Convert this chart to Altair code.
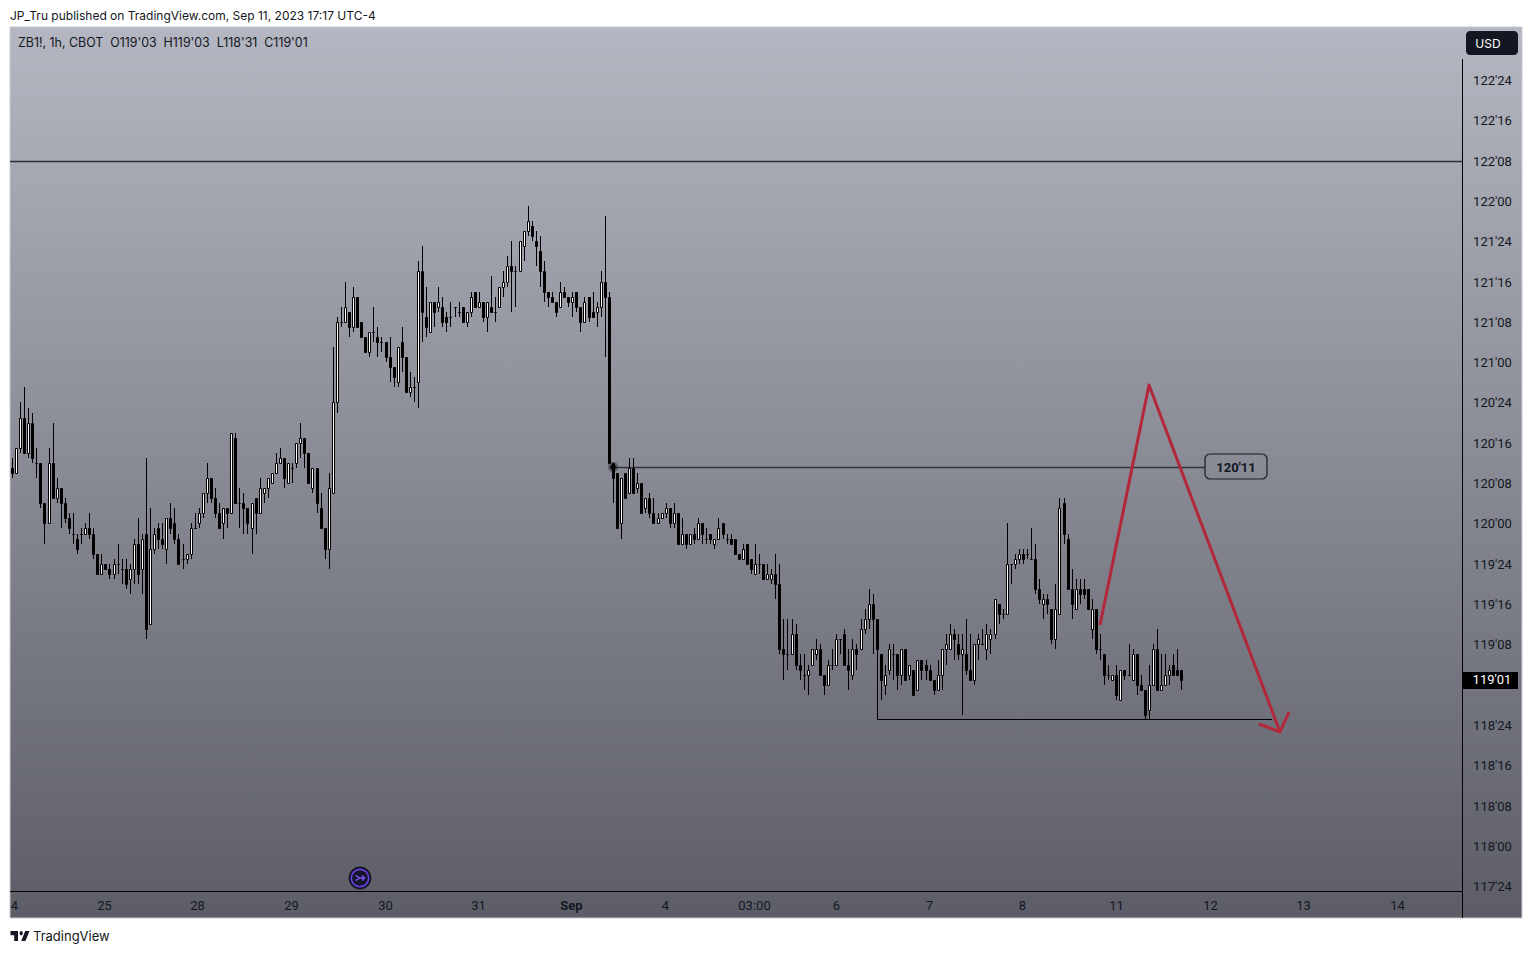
import json
import altair as alt
import pandas as pd

# All prices are in 32nds above 118'00
opens = [75,74,79,85,78,84,76,76,68,64, 76,69,71,68,65,62,61,62,62,63, 62,58,54,56,55,54,56,55,55,53,
 55,60,55,62,44,59,63,61,59,65, 64,61,57,57,58,63,64,66,70,73, 69,66,64,67,66,81,68,68,67,63,
 69,66,70,71,72,74,76,77,72,75, 76,80,81,78,71,75,67,63,59,70, 88,104,104,106,103,109,104,101,98,102,
 101,100,100,97,95,92,100,97,90,91, 92,114,105,102,108,107,107,105,105,107, 106,107,104,106,110,107,108,105,107,106,
 107,111,112,115,114,114,119,122,123,120, 118,114,110,109,108,107,110,109,108,110, 107,104,109,106,106,107,112,109,76,74,
 64,74,70,75,71,72,67,69,66,64, 65,66,67,64,66,60,62,60,62,61, 64,61,62,60,61,64,61,61,61,58,
 57,60,57,54,56,56,53,53,54,52, 39,38,38,42,36,34,34,36,38,39, 34,32,36,36,41,42,36,34,39,39,
 43,45,48,45,38,32,35,38,38,34, 39,34,35,31,37,36,35,33,31,34, 39,39,42,40,38,38,35,33,40,40,
 39,41,42,48,46,46,56,56,57,58, 58,57,57,51,48,49,47,41,46,68, 61,51,47,51,51,51,43,47,39,38,
 34,33,34,29,35,34,33,38,32,31, 27,32,39,31,32,34,36,35,35]
closes = [74,79,85,78,84,77,76,68,64,76, 69,71,68,65,63,62,59,62,63,62, 58,54,56,55,54,56,56,55,52,55,
 60,54,61,43,59,62,61,60,65,63, 61,56,57,58,63,63,66,70,73,69, 66,63,67,66,82,68,68,67,64,68,
 66,71,71,73,74,76,77,73,76,75, 80,81,78,72,75,68,63,59,71,88, 104,104,107,103,109,103,101,98,102,102,
 100,100,97,95,93,99,97,90,91,91, 114,106,103,108,106,108,104,104,105,107, 106,104,106,109,107,108,105,108,106,106,
 111,112,115,114,114,120,122,124,121,119, 114,110,109,108,106,110,109,108,109,107, 104,108,105,105,107,112,109,76,73,63,
 73,69,75,70,72,66,69,66,64,65, 66,67,64,66,60,62,60,62,61,64, 62,61,61,61,63,62,61,60,58,57,
 59,56,55,56,56,53,54,54,52,39, 38,38,42,36,35,34,35,39,39,34, 32,36,36,41,41,36,35,39,38,43,
 45,48,45,39,33,34,39,38,34,39, 33,36,30,37,35,35,33,31,34,39, 40,42,41,38,39,35,33,40,41,40,
 42,42,49,46,46,56,56,57,58,57, 58,57,51,49,49,48,41,47,67,62, 51,48,51,50,50,47,47,39,39,34,
 34,34,30,35,34,34,38,32,31,26, 32,39,31,32,34,35,34,34,33]
highs = [77,79,88,91,87,86,79,76,68,79, 84,73,71,69,66,66,62,63,64,66, 63,58,58,56,56,57,60,57,57,56,
 61,65,62,77,67,63,64,64,65,68, 67,62,60,58,64,66,67,70,76,73, 71,68,67,67,82,82,71,70,67,68,
 69,73,71,73,74,78,79,77,76,76, 80,84,81,78,75,75,70,63,74,99, 105,107,112,106,111,109,104,101,102,107,
 103,101,100,101,95,99,103,97,94,93, 116,119,111,108,108,111,109,106,108,107, 108,107,106,110,110,110,108,108,113,109,
 111,114,117,120,115,120,122,127,124,122, 121,116,110,110,108,112,111,109,110,110, 107,109,109,110,108,114,125,110,76,74,
 73,74,77,77,74,72,69,70,69,66, 66,68,67,68,66,65,62,62,63,65, 64,63,62,61,65,64,62,62,61,58,
 60,60,57,60,58,56,56,55,58,56, 45,45,45,44,38,38,36,39,41,40, 34,37,39,42,41,43,39,41,40,45,
 47,51,50,45,38,36,40,40,38,39, 39,36,35,37,37,37,36,33,37,39, 42,44,43,42,42,45,42,40,42,43,
 44,43,49,48,47,64,56,58,59,59, 59,63,60,53,50,50,47,52,69,69, 62,55,53,53,53,51,49,47,42,38,
 36,34,36,35,35,40,39,38,34,31, 36,40,43,38,38,36,38,39,35]
lows = [73,74,78,78,77,76,73,67,60,64, 69,68,63,64,62,60,58,60,62,61, 57,54,54,55,53,53,54,52,51,50,
 52,52,50,41,44,58,59,59,56,62, 60,56,55,56,57,63,63,65,68,68, 65,63,61,63,66,68,63,62,62,58,
 62,66,68,69,72,74,76,71,72,72, 75,77,75,72,70,66,63,57,55,70, 86,103,104,101,102,103,101,98,97,100,
 97,98,96,92,91,91,94,90,89,88, 87,100,101,102,103,106,103,102,103,105, 105,104,103,105,107,107,104,102,106,104,
 107,109,111,106,107,114,116,121,120,115, 111,108,107,108,105,107,109,107,105,106, 102,104,104,105,103,105,97,76,68,63,
 61,69,70,70,70,66,66,65,64,64, 65,65,63,63,60,60,59,60,60,61, 60,60,60,59,61,61,60,60,58,57,
 57,56,54,54,54,53,53,52,49,38, 33,35,38,35,33,31,30,36,37,34, 30,32,35,36,38,36,31,33,35,39,
 42,43,38,25,29,30,34,33,31,32, 33,33,30,31,33,33,33,30,31,31, 36,39,37,37,26,34,33,32,37,40,
 37,38,41,44,45,46,52,55,56,56, 57,57,50,48,45,46,40,39,46,60, 51,45,47,48,49,47,41,38,37,32,
 33,33,29,29,33,34,33,30,31,25, 25,32,31,31,32,32,34,34,31]

x_ticks = [0.5,22.66,45.67,68.6,91.9,114.8,137.7,160.9,182.8,202.9,225.9,248.7,271.8,295,318,341.1]
x_labels = ["4","25","28","29","30","31","Sep","4","03:00","6","7","8","11","12","13","14"]
y_ticks = [-8,0,8,16,24,40,48,56,64,72,80,88,96,104,112,120,128,136,144,152]

X_MIN, X_MAX = -0.4926, 371.92
Y_MIN, Y_MAX = -14.29, 162.5
X_PANE = 357.14   # right end of the pane, where the price scale starts
Y_PANE = -8.93    # bottom of the pane, where the time scale starts

red_x = [268.0, 280.05, 312.3]
red_y = [43.85, 91.47, 22.62]
head_x = [307.1, 312.3, 314.5]
head_y = [24.2, 22.62, 26.65]

xs = alt.Scale(domain=[X_MIN, X_MAX], nice=False, zero=False, round=True, padding=0)
ys = alt.Scale(domain=[Y_MIN, Y_MAX], nice=False, zero=False, round=True, padding=0)
FONT = "Inter"
NUM = "Roboto"
INK = "#131722"

x_expr = "[" + ",".join(json.dumps(s) for s in x_labels) + "][indexof(" + json.dumps(x_ticks) + ",datum.value)]"
y_expr = ("floor((datum.value+3776)/32)+\"'\"+(((datum.value+3776)%32)<10?\"0\":\"\")+((datum.value+3776)%32)")

x_axis = alt.Axis(
    values=x_ticks, labelExpr=x_expr, domain=False, ticks=False, grid=False, tickSize=0, title=None,
    labelPadding=-13, labelBaseline="middle", labelAngle=0, labelOverlap=False, labelFlush=False,
    labelFont=NUM, labelFontSize=13, labelColor=INK, zindex=1,
    labelFontWeight={"condition": {"test": "datum.value==137.7", "value": "bold"}, "value": "normal"})
y_axis = alt.Axis(
    orient="right", values=y_ticks, labelExpr=y_expr, domain=False, ticks=False, grid=False, tickSize=0, title=None,
    labelPadding=-30, labelAlign="center", labelBaseline="middle", labelOverlap=False, labelFlush=False,
    labelFont=NUM, labelFontSize=13, labelColor=INK, zindex=1)

X = lambda f="x": alt.X(f"{f}:Q", scale=xs, axis=x_axis)
Y = lambda f="y": alt.Y(f"{f}:Q", scale=ys, axis=y_axis)

# background panel
panel = alt.Chart(pd.DataFrame({"x": [X_MIN], "x2": [X_MAX], "y": [Y_MIN], "y2": [Y_MAX]})).mark_rect(
    color=alt.Gradient(gradient="linear", x1=0, x2=0, y1=0, y2=1,
                       stops=[alt.GradientStop(color="#b4b6c1", offset=0),
                              alt.GradientStop(color="#5c5d67", offset=1)]),
    stroke="#c9cad3", strokeWidth=1,
).encode(x=X(), x2="x2:Q", y=Y(), y2="y2:Q")

def hline(x0, x1, y, color, w):
    return alt.Chart(pd.DataFrame({"x": [x0], "x2": [x1], "y": [y]})).mark_rule(
        color=color, strokeWidth=w, yOffset=0.5).encode(x=X(), x2="x2:Q", y=Y())

level = hline(X_MIN, X_PANE, 136, "#2e2f35", 1.5)
mid = hline(148, 293.9, 75.25, "#34353b", 1.5)
support = hline(213, 310.3, 25.2, "#000000", 1)
time_line = hline(X_MIN, X_PANE, Y_PANE, "#000000", 1)
price_line = alt.Chart(pd.DataFrame({"x": [X_PANE], "y": [156.15], "y2": [Y_MIN]})).mark_rule(
    color="#000000", strokeWidth=1, xOffset=0.5).encode(x=X(), y=Y(), y2="y2:Q")

bars = pd.DataFrame({"x": range(len(opens)), "o": opens, "h": highs, "l": lows, "c": closes})
wicks = alt.Chart(bars).mark_rule(color="#000000", strokeWidth=1, xOffset=0.5, x2Offset=0.5).encode(
    x=X(), y=Y("h"), y2="l:Q")
down = alt.Chart(bars[bars.c <= bars.o]).mark_bar(
    size=2, fill="#000000", stroke="#000000", strokeWidth=1, xOffset=0.5, x2Offset=0.5, yOffset=0.5, y2Offset=0.5
).encode(x=X(), y=Y("o"), y2="c:Q")
up = alt.Chart(bars[bars.c > bars.o]).mark_bar(
    size=2, fill="#ffffff", stroke="#000000", strokeWidth=1, xOffset=0.5, x2Offset=0.5, yOffset=0.5, y2Offset=0.5
).encode(x=X(), y=Y("o"), y2="c:Q")

halo = alt.Chart(pd.DataFrame({"x": [148], "y": [75.25]})).mark_point(
    filled=True, size=110, color="#000000", opacity=0.3).encode(x=X(), y=Y())
dot = alt.Chart(pd.DataFrame({"x": [148], "y": [75.25]})).mark_point(
    filled=True, size=30, color="#000000", opacity=1).encode(x=X(), y=Y())

box = alt.Chart(pd.DataFrame({"x": [293.9], "x2": [309.04], "y": [77.72], "y2": [72.76]})).mark_rect(
    fill="transparent", stroke="#1c1d22", strokeWidth=1.2, cornerRadius=5).encode(
    x=X(), x2="x2:Q", y=Y(), y2="y2:Q")
box_text = alt.Chart(pd.DataFrame({"x": [301.4], "y": [75], "t": ["120'11"]})).mark_text(
    font=NUM, fontSize=13, fontWeight="bold", color=INK, baseline="middle").encode(x=X(), y=Y(), text="t:N")

red = alt.Chart(pd.DataFrame({"x": red_x, "y": red_y, "k": range(3)})).mark_line(
    color="#b2283a", strokeWidth=3, strokeJoin="round", clip=False).encode(
    x=X(), y=Y(), order="k:Q")
head = alt.Chart(pd.DataFrame({"x": head_x, "y": head_y, "k": range(3)})).mark_line(
    color="#b2283a", strokeWidth=3, strokeJoin="round", clip=False).encode(
    x=X(), y=Y(), order="k:Q")

tag = alt.Chart(pd.DataFrame({"x": [X_PANE], "x2": [370.9], "y": [34.46], "y2": [31.15]})).mark_rect(
    color="#000000").encode(x=X(), x2="x2:Q", y=Y(), y2="y2:Q")
tag_text = alt.Chart(pd.DataFrame({"x": [364.5], "y": [33], "t": ["119'01"]})).mark_text(
    font=NUM, fontSize=13, color="#ffffff", baseline="middle").encode(x=X(), y=Y(), text="t:N")

usd = alt.Chart(pd.DataFrame({"x": [358.1], "x2": [370.9], "y": [161.8], "y2": [156.9]})).mark_rect(
    color="#131722", cornerRadius=4).encode(x=X(), x2="x2:Q", y=Y(), y2="y2:Q")
usd_text = alt.Chart(pd.DataFrame({"x": [363.5], "y": [159.1], "t": ["USD"]})).mark_text(
    font=FONT, fontSize=12, color="#ffffff", baseline="middle").encode(x=X(), y=Y(), text="t:N")

NB = "\u00a0\u00a0"

def note(x, y, text, size):
    return alt.Chart(pd.DataFrame({"x": [x], "y": [y], "t": [text]})).mark_text(
        font=FONT, fontSize=size, color=INK, align="left", baseline="middle").encode(x=X(), y=Y(), text="t:N")

pub_text = note(-0.4926, 164.7, "JP_Tru published on TradingView.com, Sep 11, 2023 17:17 UTC-4", 12)
sym_text = note(1.48, 159.3, f"ZB1!, 1h, CBOT{NB}O119'03{NB}H119'03{NB}L118'31{NB}C119'01", 12.4)
tv_text = note(5.17, -18.06, "TradingView", 13)

logo_path = ("M-1 -.524 L-.211 -.524 L-.211 .524 L-.606 .524 L-.606 -.075 L-1 -.075 Z "
             "M.577 .524 L.127 .524 L.549 -.524 L1 -.524 Z "
             "M-.042 -.3 a.169 .224 0 1 0 .338 0 a.169 .224 0 1 0 -.338 0 Z")
logo = alt.Chart(pd.DataFrame({"x": [1.85], "y": [-17.86]})).mark_point(
    shape=logo_path, filled=True, size=361, color=INK, opacity=1).encode(x=X(), y=Y())

icon_pos = pd.DataFrame({"x": [85.71], "y": [-6.35]})
icon_bg = alt.Chart(icon_pos).mark_point(filled=True, size=520, color="#15152a", opacity=1).encode(x=X(), y=Y())
icon_ring = alt.Chart(icon_pos).mark_point(size=300, color="#6a3fe0", strokeWidth=1.6, filled=False, opacity=1).encode(x=X(), y=Y())
icon_glyph = alt.Chart(icon_pos).mark_point(
    shape="M-.8 -.5 L-.05 0 L-.8 .5 M-.2 0 L.85 0 M.35 -.45 L.85 0 L.35 .45",
    size=120, color="#7a4ff0", strokeWidth=1.5, filled=False, opacity=1).encode(x=X(), y=Y())

chart = alt.layer(
    panel, level, mid, wicks, down, up, support, halo, dot, red, head, box, box_text,
    time_line, price_line, tag, tag_text, usd, usd_text, pub_text, sym_text, tv_text, logo,
    icon_bg, icon_ring, icon_glyph,
).properties(
    width=1512, height=891, background="white",
    padding={"left": 2, "top": 19, "right": 2, "bottom": 28},
    autosize=alt.AutoSizeParams(type="none"),
).configure_view(stroke=None)

chart.save("out.html", embed_options={"renderer": "svg", "actions": False})
